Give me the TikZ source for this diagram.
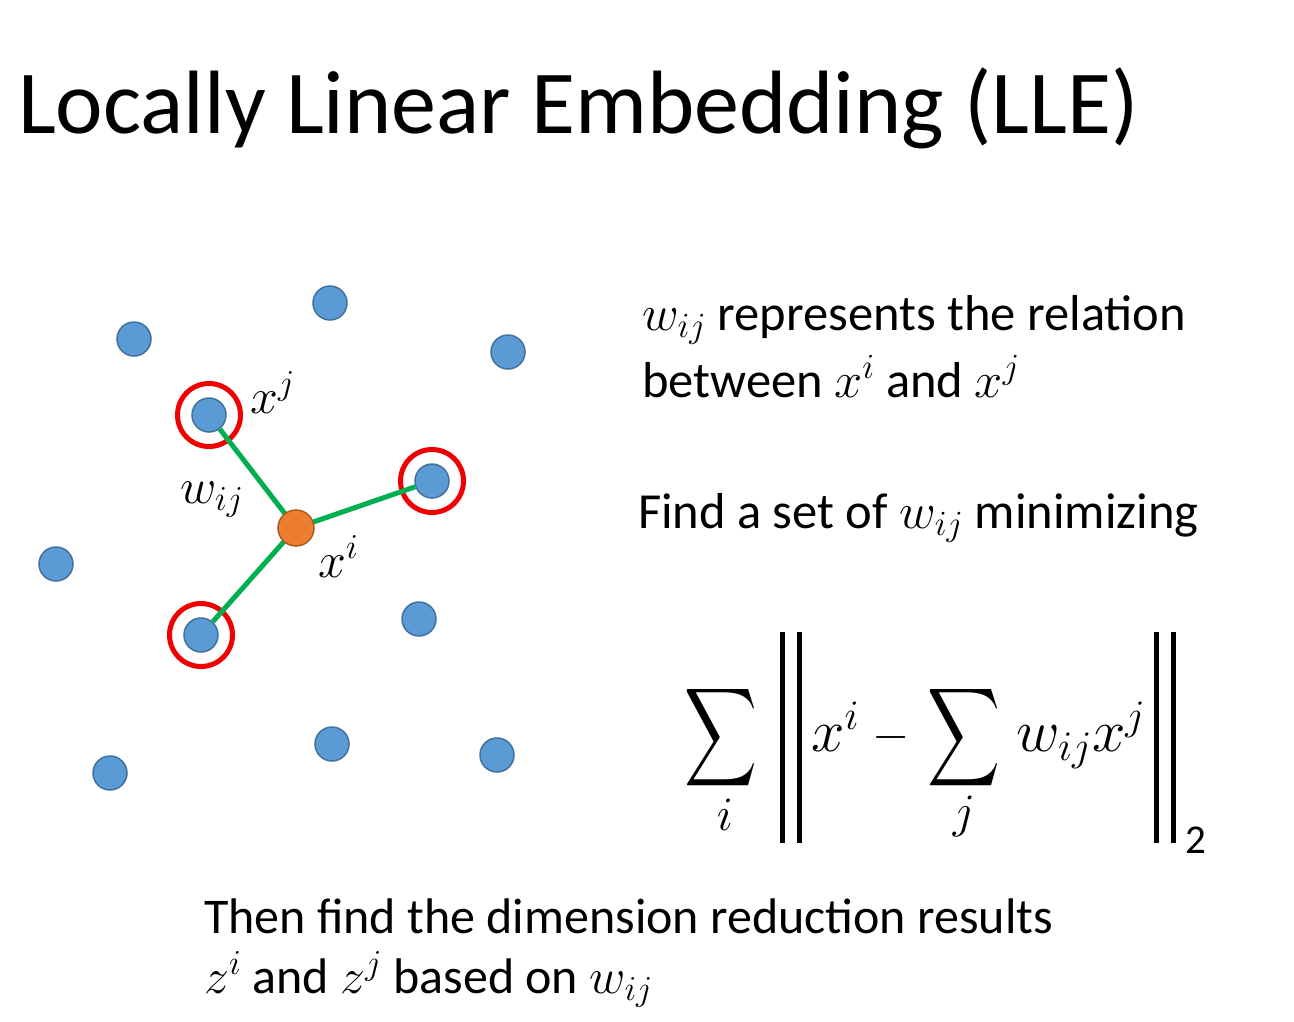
\RequirePackage{fix-cm}
\documentclass[tikz,border=0pt]{standalone}
\usepackage{graphicx}
\usepackage{fontspec}
\setmainfont{Carlito}
\definecolor{dotblue}{RGB}{91,155,213}
\definecolor{dotborder}{RGB}{65,113,156}
\definecolor{dotorange}{RGB}{237,125,49}
\definecolor{orangeborder}{RGB}{174,90,33}
\definecolor{ringred}{RGB}{240,0,0}
\definecolor{linkgreen}{RGB}{0,176,80}
\begin{document}
\begin{tikzpicture}[x=1pt,y=-1pt,
  dot/.style={circle,fill=dotblue,draw=dotborder,line width=1.5pt,minimum size=34pt,inner sep=0pt},
  cdot/.style={circle,fill=dotorange,draw=orangeborder,line width=1.5pt,minimum size=36pt,inner sep=0pt},
  ring/.style={circle,draw=ringred,line width=5pt,minimum size=63pt,inner sep=0pt},
  link/.style={draw=linkgreen,line width=5pt},
  txt/.style={anchor=base west,inner sep=0pt,font=\fontsize{50.5}{60}\selectfont},
  btxt/.style={anchor=base west,inner sep=0pt,font=\fontsize{50}{60}\selectfont},
  lbl/.style={anchor=base west,inner sep=0pt,font=\fontsize{50}{60}\selectfont},
  fml/.style={anchor=base west,inner sep=0pt,font=\fontsize{60}{72}\selectfont},
  normbar/.style={line width=5pt,draw=black},
  bigsum/.style={anchor=center,inner sep=0pt}]
\useasboundingbox (0,0) rectangle (1294,1021);
\node[anchor=base west,inner sep=0pt,font=\fontsize{90}{108}\selectfont] (title) at (18,133) {Locally Linear Embedding (LLE)};
% dots
\node[dot] (d1) at (330,303) {};
\node[dot] (d2) at (134,339) {};
\node[dot] (d3) at (508,352) {};
\node[dot] (d4) at (209,415) {};
\node[dot] (d5) at (432,481) {};
\node[dot] (d6) at (56,564) {};
\node[dot] (d7) at (419,619) {};
\node[dot] (d8) at (201,635) {};
\node[dot] (d9) at (332,744) {};
\node[dot] (d10) at (110,773) {};
\node[dot] (d11) at (497,755) {};
\node[ring] (r4) at (d4) {};
\node[ring] (r5) at (d5) {};
\node[ring] (r8) at (d8) {};
\coordinate (cc) at (296,528);
\draw[link] (cc) -- (d4);
\draw[link] (cc) -- (d5);
\draw[link] (cc) -- (d8);
\node[cdot] (c) at (cc) {};
\node[lbl] (lxj) at (250,413) {$x^j$};
\node[lbl] (lw) at (180,503) {$w_{ij}$};
\node[lbl] (lxi) at (318,577) {$x^i$};
% right text
\node[txt] (t1) at (642,330) {$w_{ij}$ represents the relation};
\node[txt] (t2) at (642,397) {between $x^i$ and $x^j$};
\node[txt] (t3) at (638,528) {Find a set of $w_{ij}$ minimizing};
% formula
\node[bigsum] (s1) at (721.5,738) {\resizebox*{73pt}{110pt}{$\displaystyle\sum$}};
\node[anchor=center,inner sep=0pt,font=\fontsize{48}{58}\selectfont] (li) at (725,815) {$i$};
\coordinate (b1t) at (782.5,632); \coordinate (b1b) at (782.5,843);
\coordinate (b2t) at (799.5,632); \coordinate (b2b) at (799.5,843);
\draw[normbar] (b1t) -- (b1b);
\draw[normbar] (b2t) -- (b2b);
\node[fml] (fx) at (811,751) {$x^i$};
\node[anchor=center,inner sep=0pt,font=\fontsize{48}{58}\selectfont] (fm) at (891,737) {$-$};
\node[bigsum] (s2) at (964,738) {\resizebox*{73pt}{110pt}{$\displaystyle\sum$}};
\node[anchor=center,inner sep=0pt,font=\fontsize{48}{58}\selectfont] (lj) at (964,816) {$j$};
\node[fml] (fw) at (1016,751) {$w_{ij}x^j$};
\coordinate (b3t) at (1156.5,632); \coordinate (b3b) at (1156.5,843);
\coordinate (b4t) at (1173.5,632); \coordinate (b4b) at (1173.5,843);
\draw[normbar] (b3t) -- (b3b);
\draw[normbar] (b4t) -- (b4b);
\node[anchor=base west,inner sep=0pt,font=\fontsize{41}{50}\selectfont] (two) at (1185,853) {2};
% bottom text
\node[btxt] (bt1) at (204,933) {Then find the dimension reduction results};
\node[btxt] (bt2) at (204,993) {$z^i$ and $z^j$ based on $w_{ij}$};
\end{tikzpicture}
\end{document}
